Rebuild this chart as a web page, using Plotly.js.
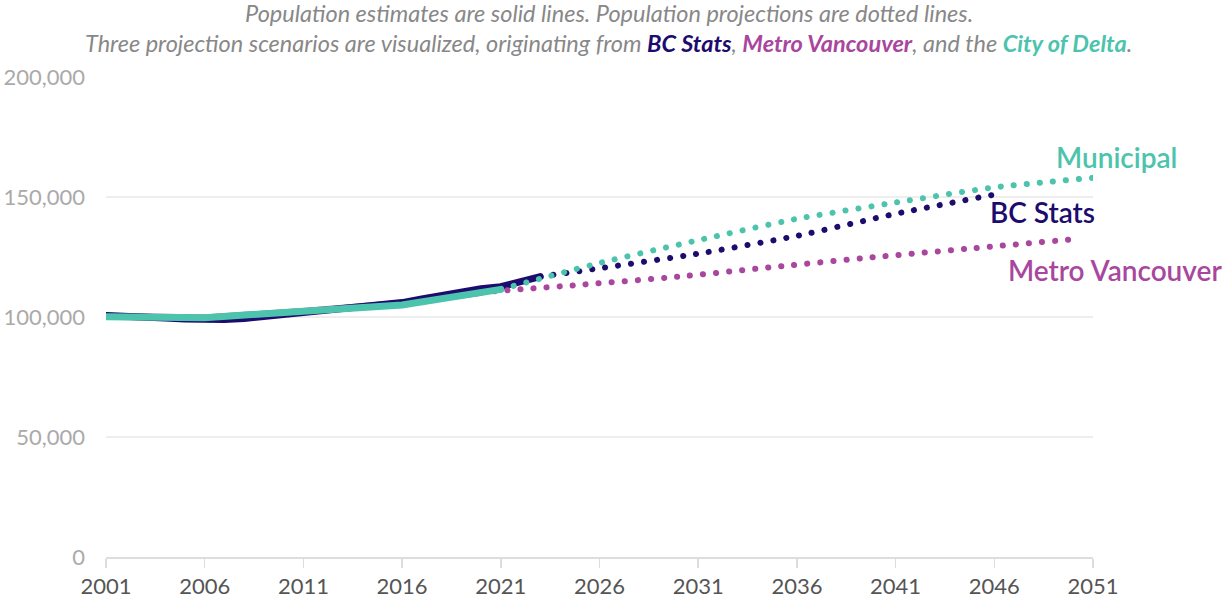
<!DOCTYPE html>
<html>
<head>
<meta charset="utf-8">
<script src="https://cdn.plot.ly/plotly-3.0.1.min.js"></script>
<style>
  html, body { margin: 0; padding: 0; background: #fff; }
  #chart { width: 1225px; height: 603px; }
  /* round caps turn the tiny dashes into round dots */
  .scatterlayer .js-line { stroke-linecap: round; }
</style>
</head>
<body>
<div id="chart"></div>
<script>
  const NAVY = "#1d0b6d";
  const PURPLE = "#a8479d";
  const TEAL = "#4cc3ad";

  // estimates (solid)
  const bcYears = [2001, 2002, 2003, 2004, 2005, 2006, 2007, 2008, 2009, 2010, 2011, 2012,
    2013, 2014, 2015, 2016, 2017, 2018, 2019, 2020, 2021, 2022, 2023];
  const bcEstimates = [100600, 100500, 100200, 99600, 99200, 99000, 99000, 99400, 100200,
    101000, 101600, 102300, 103300, 104600, 105400, 106000, 107500, 109000, 110500,
    111800, 112600, 114500, 116800];

  const metroYears = [2001, 2006, 2011, 2016, 2020];
  const metroEstimates = [100300, 99600, 102300, 105700, 110300];

  const cityYears = [2001, 2006, 2011, 2016, 2021];
  const cityEstimates = [100100, 99700, 102400, 105000, 111500];

  // projections (dotted)
  const bcProjYears = [2023, 2026, 2031, 2036, 2041, 2046];
  const bcProjections = [116800, 120300, 126400, 133800, 143000, 151000];

  const metroProjYears = [2020, 2025, 2030, 2035, 2040, 2045, 2050];
  const metroProjections = [110300, 113400, 116800, 121000, 125000, 128700, 132400];

  const cityProjYears = [2021, 2026, 2031, 2036, 2041, 2046, 2051];
  const cityProjections = [111500, 122500, 132000, 140900, 147700, 154000, 158000];

  const FONT = "Lato, 'Source Sans Pro', 'Open Sans', sans-serif";

  function solid(x, y, color) {
    return {
      type: "scatter", mode: "lines", x: x, y: y,
      line: { color: color, width: 7 },
      hoverinfo: "skip"
    };
  }

  function dotted(x, y, color) {
    return {
      type: "scatter", mode: "lines", x: x, y: y,
      line: { color: color, width: 6, dash: "0.1px,13px", shape: "spline", smoothing: 0.6 },
      hoverinfo: "skip"
    };
  }

  const traces = [
    solid(metroYears, metroEstimates, PURPLE),
    solid(bcYears, bcEstimates, NAVY),
    dotted(metroProjYears, metroProjections, PURPLE),
    dotted(bcProjYears, bcProjections, NAVY),
    solid(cityYears, cityEstimates, TEAL),
    dotted(cityProjYears, cityProjections, TEAL)
  ];

  // the two title lines are separate annotations so the line spacing stays tight
  const titleLine1 = "<i>Population estimates are solid lines. Population projections are dotted lines.</i>";
  const titleLine2 =
    "<i>Three projection scenarios are visualized, originating from " +
    "<b><span style='color:" + NAVY + "'>BC Stats</span></b>, " +
    "<b><span style='color:" + PURPLE + "'>Metro Vancouver</span></b>, and the " +
    "<b><span style='color:" + TEAL + "'>City of Delta</span></b>.</i>";

  const titleFont = { family: FONT, size: 23.5, color: "#888" };
  const labelFont = (color) => ({ family: FONT, size: 28, color: color, weight: 600 });

  const layout = {
    width: 1225,
    height: 603,
    paper_bgcolor: "#fff",
    plot_bgcolor: "#fff",
    showlegend: false,
    margin: { l: 106, r: 132, t: 77, b: 46 },
    font: { family: FONT, color: "#888" },
    xaxis: {
      range: [2001, 2051],
      tick0: 2001, dtick: 5,
      showgrid: false,
      zeroline: false,
      showline: true,
      linecolor: "#dddddd",
      linewidth: 1.5,
      ticks: "outside",
      ticklen: 9,
      tickcolor: "#dddddd",
      tickwidth: 1.5,
      tickfont: { family: FONT, size: 22, color: "#555" },
      fixedrange: true
    },
    yaxis: {
      range: [0, 200000],
      dtick: 50000,
      tickformat: ",d",
      showgrid: true,
      gridcolor: "#eeeeee",
      gridwidth: 1.5,
      zeroline: false,
      showline: false,
      ticks: "",
      ticklabelstandoff: 20,
      tickfont: { family: FONT, size: 22, color: "#aaa" },
      fixedrange: true
    },
    annotations: [
      { x: 0.5096, y: 1.1323, xref: "paper", yref: "paper", xanchor: "center", yanchor: "middle",
        text: titleLine1, showarrow: false, font: titleFont },
      { x: 0.5096, y: 1.0698, xref: "paper", yref: "paper", xanchor: "center", yanchor: "middle",
        text: titleLine2, showarrow: false, font: titleFont },
      { x: 2049.0, y: 166700, xref: "x", yref: "y", xanchor: "left", yanchor: "middle",
        text: "Municipal", showarrow: false, font: labelFont(TEAL) },
      { x: 2045.7, y: 143800, xref: "x", yref: "y", xanchor: "left", yanchor: "middle",
        text: "BC Stats", showarrow: false, font: labelFont(NAVY) },
      { x: 2046.6, y: 119600, xref: "x", yref: "y", xanchor: "left", yanchor: "middle",
        text: "Metro Vancouver", showarrow: false, font: labelFont(PURPLE) }
    ]
  };

  Plotly.newPlot("chart", traces, layout, { displayModeBar: false, staticPlot: true });
</script>
</body>
</html>
